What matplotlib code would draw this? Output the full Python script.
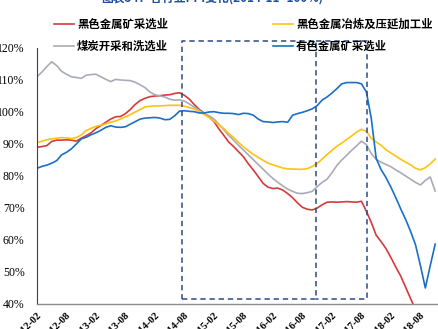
import numpy as np
import pandas as pd
import matplotlib
matplotlib.use("Agg")
import matplotlib.pyplot as plt

# monthly index, 2012-02 .. 2018-11
months = pd.date_range("2012-02-01", periods=82, freq="MS").strftime("%Y-%m").tolist()

coal = [111.0, 112.5, 114.2, 115.7, 114.5, 112.7, 111.8, 111.0, 110.8, 110.5,
        111.5, 111.7, 111.8, 111.0, 110.2, 109.5, 110.2, 110.0, 109.9, 109.8,
        109.3, 108.5, 107.6, 106.2, 105.4, 105.0, 104.7, 104.0, 103.7, 103.8,
        103.4, 102.5, 101.5, 100.5, 99.5, 98.8, 97.8, 96.2, 94.5, 92.7,
        91.2, 89.6, 88.1, 86.6, 85.1, 83.6, 82.1, 80.6, 79.2, 78.0,
        76.9, 75.9, 75.2, 74.6, 74.5, 74.8, 75.2, 76.7, 78.0, 79.0,
        81.0, 83.3, 85.0, 86.5, 88.0, 89.4, 90.9, 89.8, 87.0, 85.2,
        84.3, 83.6, 82.9, 81.9, 81.0, 80.0, 79.0, 78.0, 77.2, 78.6,
        79.7, 75.3]

ferrous_mining = [89.0, 89.2, 89.5, 90.8, 91.2, 91.2, 91.3, 91.2, 90.9, 91.8,
                  92.6, 93.5, 94.8, 95.8, 96.8, 97.8, 98.5, 98.6, 99.5, 100.8,
                  102.4, 103.6, 104.3, 104.8, 105.0, 105.1, 105.3, 105.4, 105.8, 106.0,
                  105.2, 104.0, 102.3, 100.8, 99.7, 98.5, 97.0, 94.7, 92.7, 90.6,
                  89.2, 87.6, 86.0, 83.8, 81.9, 79.8, 77.7, 76.5, 76.1, 76.2,
                  75.6, 74.5, 73.2, 71.6, 70.2, 69.6, 69.4, 70.0, 71.0, 71.8,
                  71.9, 71.8, 71.9, 72.0, 71.9, 71.8, 72.1, 69.0, 65.5, 61.5,
                  59.5, 57.3, 54.5, 51.5, 48.7, 45.2, 41.7, 38.3, 35.0, 32.0,
                  30.0, 28.0]

ferrous_smelting = [90.4, 90.9, 91.3, 91.6, 91.8, 92.0, 91.9, 91.7, 92.0, 92.8,
                    94.2, 94.9, 95.5, 95.9, 96.3, 96.8, 97.2, 97.8, 98.5, 99.2,
                    100.0, 100.8, 101.6, 101.8, 101.9, 101.9, 102.0, 102.1, 102.1, 102.1,
                    101.8, 101.4, 100.9, 100.2, 99.2, 98.3, 97.2, 96.0, 94.8, 93.3,
                    92.0, 90.5, 89.1, 87.9, 86.8, 85.8, 84.9, 84.0, 83.5, 83.0,
                    82.5, 82.2, 82.2, 82.1, 82.1, 82.3, 83.0, 83.9, 85.3, 86.7,
                    88.0, 89.3, 90.3, 91.4, 92.5, 93.7, 94.6, 94.0, 91.8, 90.6,
                    89.6, 88.2, 87.2, 86.2, 85.2, 84.3, 83.5, 82.4, 81.9, 82.6,
                    83.8, 85.3]

nonferrous_mining = [82.4, 83.0, 83.4, 84.0, 84.8, 86.6, 87.4, 88.5, 90.0, 91.6,
                     92.1, 92.9, 93.5, 94.3, 95.2, 95.7, 95.3, 95.2, 95.4, 96.2,
                     97.0, 97.8, 98.1, 98.2, 98.3, 98.1, 97.6, 97.7, 98.8, 100.3,
                     100.4, 100.2, 100.1, 99.7, 99.7, 100.0, 100.1, 99.8, 99.6, 99.6,
                     99.5, 99.2, 99.6, 99.5, 99.0, 97.8, 97.0, 96.9, 96.7, 96.9,
                     97.0, 96.8, 99.0, 99.5, 99.9, 100.4, 101.0, 102.0, 103.7, 104.7,
                     105.9, 107.3, 108.8, 109.2, 109.2, 109.2, 108.8, 106.3, 98.0, 85.5,
                     82.0, 79.5, 76.5, 73.2, 69.7, 66.4, 62.7, 58.5, 52.0, 45.0,
                     52.0, 58.7]

# highlighted periods (month index), drawn as dashed boxes
box_periods = [(29.5, 56.7), (56.7, 67.1)]
box_low, box_high = 41.6, 122.2

x = np.arange(len(months))

fig = plt.figure(figsize=(4.38, 3.29), dpi=100)
ax = fig.add_axes([37/438, 25/329, 408/438, 256/329])

l1, = ax.plot(x, ferrous_mining, color='#d7393b', lw=1.2)
l3, = ax.plot(x, coal, color='#a9abb8', lw=1.2)
l2, = ax.plot(x, ferrous_smelting, color='#ffc20e', lw=1.2)
l4, = ax.plot(x, nonferrous_mining, color='#1a6fc8', lw=1.2)

# dashed boxes; the shared edge is drawn only once
for k, (a, b) in enumerate(box_periods):
    if k == 0:
        bx, by = [a, b, b, a, a], [box_low, box_low, box_high, box_high, box_low]
    else:
        bx, by = [a, b, b, a], [box_high, box_high, box_low, box_low]
    ax.plot(bx, by, color='#2c4a80', lw=1.1, ls=(0, (3.5, 2.5)), clip_on=False)

ax.set_xlim(0, 83)
ax.set_ylim(40, 120)
yt = np.arange(40, 121, 10)
ax.set_yticks(yt)
ax.set_yticklabels(['%d%%' % v for v in yt], family='Liberation Serif', fontsize=8.5)
xt = np.arange(0, len(months), 6)
ax.set_xticks(xt)
ax.set_xticklabels([months[i] for i in xt], rotation=45, ha='right', va='top',
                   rotation_mode='anchor', family='Liberation Serif',
                   fontweight='bold', fontsize=7.5)
ax.tick_params(axis='both', length=0)
ax.tick_params(axis='y', pad=9)
ax.tick_params(axis='x', pad=5)

for s in ['top', 'right']:
    ax.spines[s].set_visible(False)
ax.spines['left'].set_color('#404040')
ax.spines['left'].set_linewidth(0.8)
ax.spines['bottom'].set_color('#8c8c8c')
ax.spines['bottom'].set_linewidth(1.0)

fig.legend([l1, l3, l2, l4],
           ['黑色金属矿采选业', '煤炭开采和洗选业', '黑色金属冶炼及压延加工业', '有色金属矿采选业'],
           ncol=2, loc='upper left', bbox_to_anchor=(48/438, 1 - 12/329),
           frameon=False, borderpad=0, handlelength=1.8, handletextpad=0.25,
           columnspacing=9.2, labelspacing=0.8,
           prop={'family': ['Noto Sans CJK SC', 'DejaVu Sans'], 'weight': 'bold', 'size': 8.2})

fig.text(0.485, 1 - 3/329, '图表54：各行业PPI变化(2014-11=100%)', ha='center', va='baseline',
         color='#1f4e9c', fontsize=8.5, fontweight='bold',
         family=['Noto Sans CJK SC', 'DejaVu Sans'])

fig.savefig('out.png', dpi=100)
